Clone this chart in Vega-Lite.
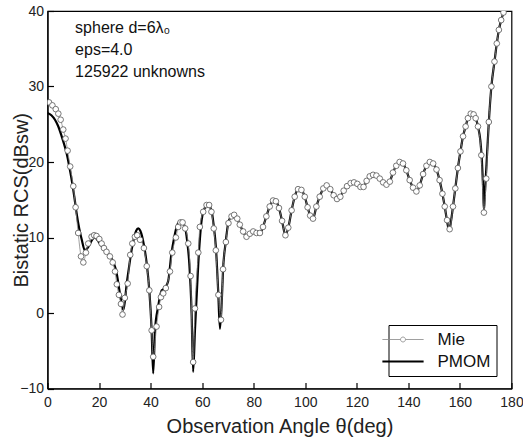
{
  "$schema": "https://vega.github.io/schema/vega-lite/v6.json",
  "width": 464,
  "height": 377.5,
  "autosize": {"type": "none"},
  "padding": {"left": 47.5, "top": 11, "right": 11.5, "bottom": 51.5},
  "background": "white",
  "config": {
    "font": "Liberation Sans",
    "view": {"stroke": "#000", "strokeWidth": 1.2},
    "axis": {"grid": false, "domainColor": "#000", "domainWidth": 1.2, "tickColor": "#000", "tickWidth": 1.2, "labelColor": "#222", "labelFontSize": 14, "titleFontSize": 20, "titleFontWeight": "normal", "titleColor": "#222", "labelFlush": false, "labelOverlap": false}
  },
  "datasets": {
    "pmom": [
      {"t": 0, "v": 26.5, "series": "PMOM"}, {"t": 1.5, "v": 26.2, "series": "PMOM"}, {"t": 2.9, "v": 25.6, "series": "PMOM"}, {"t": 4.2, "v": 24.7, "series": "PMOM"}, {"t": 5.5, "v": 23.4, "series": "PMOM"}, {"t": 6.5, "v": 22.3, "series": "PMOM"}, {"t": 7.4, "v": 21.2, "series": "PMOM"}, {"t": 8.4, "v": 19.5, "series": "PMOM"}, {"t": 9.4, "v": 17.6, "series": "PMOM"}, {"t": 10.4, "v": 15.4, "series": "PMOM"}, {"t": 11.3, "v": 13.2, "series": "PMOM"}, {"t": 12.3, "v": 11.2, "series": "PMOM"}, {"t": 13.3, "v": 9.7, "series": "PMOM"}, {"t": 14.5, "v": 8.3, "series": "PMOM"}, {"t": 15.5, "v": 8.6, "series": "PMOM"}, {"t": 16.5, "v": 9.2, "series": "PMOM"}, {"t": 17.5, "v": 9.8, "series": "PMOM"}, {"t": 18.4, "v": 10.0, "series": "PMOM"}, {"t": 19.3, "v": 9.7, "series": "PMOM"}, {"t": 20.3, "v": 9.2, "series": "PMOM"}, {"t": 21.6, "v": 8.6, "series": "PMOM"}, {"t": 22.9, "v": 8.1, "series": "PMOM"}, {"t": 24.2, "v": 7.5, "series": "PMOM"}, {"t": 25.5, "v": 6.8, "series": "PMOM"}, {"t": 26.8, "v": 5.3, "series": "PMOM"}, {"t": 28.1, "v": 2.6, "series": "PMOM"}, {"t": 29.4, "v": 0.4, "series": "PMOM"}, {"t": 30.0, "v": 1.5, "series": "PMOM"}, {"t": 30.6, "v": 3.5, "series": "PMOM"}, {"t": 31.6, "v": 6.0, "series": "PMOM"}, {"t": 32.6, "v": 8.3, "series": "PMOM"}, {"t": 33.6, "v": 10.0, "series": "PMOM"}, {"t": 34.4, "v": 10.9, "series": "PMOM"}, {"t": 35.2, "v": 11.2, "series": "PMOM"}, {"t": 36.0, "v": 10.9, "series": "PMOM"}, {"t": 37.4, "v": 9.0, "series": "PMOM"}, {"t": 38.5, "v": 6.5, "series": "PMOM"}, {"t": 39.5, "v": 3.0, "series": "PMOM"}, {"t": 40.4, "v": -2.3, "series": "PMOM"}, {"t": 41.0, "v": -8.0, "series": "PMOM"}, {"t": 41.7, "v": -2.3, "series": "PMOM"}, {"t": 42.9, "v": 0.8, "series": "PMOM"}, {"t": 44.3, "v": 3.0, "series": "PMOM"}, {"t": 45.5, "v": 3.3, "series": "PMOM"}, {"t": 46.8, "v": 4.2, "series": "PMOM"}, {"t": 48.1, "v": 7.9, "series": "PMOM"}, {"t": 49.1, "v": 9.9, "series": "PMOM"}, {"t": 50.1, "v": 11.4, "series": "PMOM"}, {"t": 51.6, "v": 12.2, "series": "PMOM"}, {"t": 53.3, "v": 11.4, "series": "PMOM"}, {"t": 54.2, "v": 9.5, "series": "PMOM"}, {"t": 55.0, "v": 6.6, "series": "PMOM"}, {"t": 55.9, "v": 0.0, "series": "PMOM"}, {"t": 56.5, "v": -7.8, "series": "PMOM"}, {"t": 57.2, "v": -2.3, "series": "PMOM"}, {"t": 58.5, "v": 6.6, "series": "PMOM"}, {"t": 59.8, "v": 12.3, "series": "PMOM"}, {"t": 61.0, "v": 13.9, "series": "PMOM"}, {"t": 62.3, "v": 14.3, "series": "PMOM"}, {"t": 63.6, "v": 13.6, "series": "PMOM"}, {"t": 64.5, "v": 11.5, "series": "PMOM"}, {"t": 65.3, "v": 8.8, "series": "PMOM"}, {"t": 66.2, "v": 3.0, "series": "PMOM"}, {"t": 66.9, "v": -2.1, "series": "PMOM"}, {"t": 67.6, "v": 1.5, "series": "PMOM"}, {"t": 68.1, "v": 5.7, "series": "PMOM"}, {"t": 69.1, "v": 9.3, "series": "PMOM"}, {"t": 70.1, "v": 11.9, "series": "PMOM"}, {"t": 71.0, "v": 12.7, "series": "PMOM"}, {"t": 72.0, "v": 13.0, "series": "PMOM"}, {"t": 73.6, "v": 12.5, "series": "PMOM"}, {"t": 74.6, "v": 11.7, "series": "PMOM"}, {"t": 75.9, "v": 10.8, "series": "PMOM"}, {"t": 77.2, "v": 10.1, "series": "PMOM"}, {"t": 78.5, "v": 10.5, "series": "PMOM"}, {"t": 79.8, "v": 10.8, "series": "PMOM"}, {"t": 81.1, "v": 10.6, "series": "PMOM"}, {"t": 82.4, "v": 10.6, "series": "PMOM"}, {"t": 83.6, "v": 11.4, "series": "PMOM"}, {"t": 84.9, "v": 12.8, "series": "PMOM"}, {"t": 86.2, "v": 14.1, "series": "PMOM"}, {"t": 87.5, "v": 14.9, "series": "PMOM"}, {"t": 88.6, "v": 14.8, "series": "PMOM"}, {"t": 89.8, "v": 13.9, "series": "PMOM"}, {"t": 91.0, "v": 12.2, "series": "PMOM"}, {"t": 92.3, "v": 10.3, "series": "PMOM"}, {"t": 93.4, "v": 11.3, "series": "PMOM"}, {"t": 94.7, "v": 13.6, "series": "PMOM"}, {"t": 95.9, "v": 15.4, "series": "PMOM"}, {"t": 97.2, "v": 16.4, "series": "PMOM"}, {"t": 98.5, "v": 16.3, "series": "PMOM"}, {"t": 99.8, "v": 15.4, "series": "PMOM"}, {"t": 100.9, "v": 14.0, "series": "PMOM"}, {"t": 101.9, "v": 12.9, "series": "PMOM"}, {"t": 103.0, "v": 12.5, "series": "PMOM"}, {"t": 104.3, "v": 14.1, "series": "PMOM"}, {"t": 105.6, "v": 15.4, "series": "PMOM"}, {"t": 107.0, "v": 16.5, "series": "PMOM"}, {"t": 108.3, "v": 16.9, "series": "PMOM"}, {"t": 109.7, "v": 16.4, "series": "PMOM"}, {"t": 111.0, "v": 15.6, "series": "PMOM"}, {"t": 112.3, "v": 15.1, "series": "PMOM"}, {"t": 113.6, "v": 15.4, "series": "PMOM"}, {"t": 114.9, "v": 16.2, "series": "PMOM"}, {"t": 116.2, "v": 16.8, "series": "PMOM"}, {"t": 117.6, "v": 17.2, "series": "PMOM"}, {"t": 118.9, "v": 17.3, "series": "PMOM"}, {"t": 120.2, "v": 17.1, "series": "PMOM"}, {"t": 121.4, "v": 16.7, "series": "PMOM"}, {"t": 122.6, "v": 16.7, "series": "PMOM"}, {"t": 123.8, "v": 17.5, "series": "PMOM"}, {"t": 125.0, "v": 18.1, "series": "PMOM"}, {"t": 126.3, "v": 18.3, "series": "PMOM"}, {"t": 127.6, "v": 18.2, "series": "PMOM"}, {"t": 128.9, "v": 17.8, "series": "PMOM"}, {"t": 130.2, "v": 17.3, "series": "PMOM"}, {"t": 131.5, "v": 17.0, "series": "PMOM"}, {"t": 132.8, "v": 17.4, "series": "PMOM"}, {"t": 134.0, "v": 18.6, "series": "PMOM"}, {"t": 135.3, "v": 19.5, "series": "PMOM"}, {"t": 136.6, "v": 20.0, "series": "PMOM"}, {"t": 137.9, "v": 19.8, "series": "PMOM"}, {"t": 139.2, "v": 18.9, "series": "PMOM"}, {"t": 140.5, "v": 17.6, "series": "PMOM"}, {"t": 141.8, "v": 16.6, "series": "PMOM"}, {"t": 143.1, "v": 16.1, "series": "PMOM"}, {"t": 144.4, "v": 16.9, "series": "PMOM"}, {"t": 145.7, "v": 18.4, "series": "PMOM"}, {"t": 147.0, "v": 19.5, "series": "PMOM"}, {"t": 148.3, "v": 20.0, "series": "PMOM"}, {"t": 149.6, "v": 19.8, "series": "PMOM"}, {"t": 150.9, "v": 19.0, "series": "PMOM"}, {"t": 152.1, "v": 17.6, "series": "PMOM"}, {"t": 153.2, "v": 15.8, "series": "PMOM"}, {"t": 154.1, "v": 14.1, "series": "PMOM"}, {"t": 155.0, "v": 12.2, "series": "PMOM"}, {"t": 155.8, "v": 10.9, "series": "PMOM"}, {"t": 156.6, "v": 12.3, "series": "PMOM"}, {"t": 157.3, "v": 14.1, "series": "PMOM"}, {"t": 158.2, "v": 16.5, "series": "PMOM"}, {"t": 159.2, "v": 19.2, "series": "PMOM"}, {"t": 160.2, "v": 21.4, "series": "PMOM"}, {"t": 161.2, "v": 23.4, "series": "PMOM"}, {"t": 162.2, "v": 24.7, "series": "PMOM"}, {"t": 163.1, "v": 25.8, "series": "PMOM"}, {"t": 164.2, "v": 26.4, "series": "PMOM"}, {"t": 165.3, "v": 26.3, "series": "PMOM"}, {"t": 166.1, "v": 25.8, "series": "PMOM"}, {"t": 167.0, "v": 24.7, "series": "PMOM"}, {"t": 167.9, "v": 22.9, "series": "PMOM"}, {"t": 168.5, "v": 20.3, "series": "PMOM"}, {"t": 168.9, "v": 17.4, "series": "PMOM"}, {"t": 169.3, "v": 13.6, "series": "PMOM"}, {"t": 169.7, "v": 16.0, "series": "PMOM"}, {"t": 170.2, "v": 19.0, "series": "PMOM"}, {"t": 171.2, "v": 25.3, "series": "PMOM"}, {"t": 172.2, "v": 30.0, "series": "PMOM"}, {"t": 173.4, "v": 33.3, "series": "PMOM"}, {"t": 174.3, "v": 35.7, "series": "PMOM"}, {"t": 175.1, "v": 37.5, "series": "PMOM"}, {"t": 176.0, "v": 38.8, "series": "PMOM"}, {"t": 176.9, "v": 39.8, "series": "PMOM"}, {"t": 178.0, "v": 41.3, "series": "PMOM"}
    ],
    "mie": [
      {"t": 0.6, "v": 27.9, "series": "Mie"}, {"t": 1.9, "v": 27.5, "series": "Mie"}, {"t": 3.2, "v": 27.0, "series": "Mie"}, {"t": 4.2, "v": 26.4, "series": "Mie"}, {"t": 5.1, "v": 25.6, "series": "Mie"}, {"t": 6.1, "v": 24.3, "series": "Mie"}, {"t": 7.0, "v": 23.1, "series": "Mie"}, {"t": 7.8, "v": 21.5, "series": "Mie"}, {"t": 8.8, "v": 19.4, "series": "Mie"}, {"t": 10.0, "v": 16.8, "series": "Mie"}, {"t": 10.9, "v": 14.0, "series": "Mie"}, {"t": 11.9, "v": 10.6, "series": "Mie"}, {"t": 13.0, "v": 7.5, "series": "Mie"}, {"t": 13.9, "v": 6.7, "series": "Mie"}, {"t": 14.9, "v": 8.0, "series": "Mie"}, {"t": 15.8, "v": 9.2, "series": "Mie"}, {"t": 17.1, "v": 10.1, "series": "Mie"}, {"t": 18.1, "v": 10.3, "series": "Mie"}, {"t": 19.0, "v": 10.2, "series": "Mie"}, {"t": 20.1, "v": 9.8, "series": "Mie"}, {"t": 21.0, "v": 9.2, "series": "Mie"}, {"t": 21.9, "v": 8.6, "series": "Mie"}, {"t": 22.9, "v": 8.1, "series": "Mie"}, {"t": 24.2, "v": 7.5, "series": "Mie"}, {"t": 25.3, "v": 6.7, "series": "Mie"}, {"t": 26.2, "v": 5.5, "series": "Mie"}, {"t": 26.9, "v": 3.8, "series": "Mie"}, {"t": 27.7, "v": 2.4, "series": "Mie"}, {"t": 28.5, "v": 1.2, "series": "Mie"}, {"t": 29.1, "v": -0.2, "series": "Mie"}, {"t": 30.0, "v": 2.0, "series": "Mie"}, {"t": 31.1, "v": 3.9, "series": "Mie"}, {"t": 32.1, "v": 7.7, "series": "Mie"}, {"t": 32.9, "v": 9.2, "series": "Mie"}, {"t": 33.9, "v": 10.1, "series": "Mie"}, {"t": 34.8, "v": 10.3, "series": "Mie"}, {"t": 35.9, "v": 9.7, "series": "Mie"}, {"t": 37.4, "v": 8.6, "series": "Mie"}, {"t": 38.5, "v": 6.2, "series": "Mie"}, {"t": 39.5, "v": 3.0, "series": "Mie"}, {"t": 40.4, "v": -2.3, "series": "Mie"}, {"t": 41.0, "v": -5.8, "series": "Mie"}, {"t": 42.3, "v": -1.8, "series": "Mie"}, {"t": 43.3, "v": 0.8, "series": "Mie"}, {"t": 44.0, "v": 2.1, "series": "Mie"}, {"t": 44.9, "v": 2.6, "series": "Mie"}, {"t": 45.9, "v": 3.3, "series": "Mie"}, {"t": 47.5, "v": 5.5, "series": "Mie"}, {"t": 48.4, "v": 8.0, "series": "Mie"}, {"t": 49.8, "v": 10.0, "series": "Mie"}, {"t": 50.7, "v": 11.4, "series": "Mie"}, {"t": 51.6, "v": 12.0, "series": "Mie"}, {"t": 52.4, "v": 12.0, "series": "Mie"}, {"t": 53.4, "v": 11.2, "series": "Mie"}, {"t": 54.6, "v": 9.2, "series": "Mie"}, {"t": 55.5, "v": 4.9, "series": "Mie"}, {"t": 56.5, "v": -6.5, "series": "Mie"}, {"t": 57.2, "v": 0.6, "series": "Mie"}, {"t": 58.5, "v": 8.0, "series": "Mie"}, {"t": 59.1, "v": 11.4, "series": "Mie"}, {"t": 60.4, "v": 13.4, "series": "Mie"}, {"t": 61.7, "v": 14.3, "series": "Mie"}, {"t": 62.7, "v": 14.3, "series": "Mie"}, {"t": 63.6, "v": 13.4, "series": "Mie"}, {"t": 64.5, "v": 11.2, "series": "Mie"}, {"t": 65.3, "v": 8.3, "series": "Mie"}, {"t": 66.3, "v": 2.4, "series": "Mie"}, {"t": 67.3, "v": -0.9, "series": "Mie"}, {"t": 68.1, "v": 5.8, "series": "Mie"}, {"t": 69.2, "v": 9.4, "series": "Mie"}, {"t": 70.2, "v": 11.9, "series": "Mie"}, {"t": 71.4, "v": 12.8, "series": "Mie"}, {"t": 72.4, "v": 13.0, "series": "Mie"}, {"t": 73.6, "v": 12.5, "series": "Mie"}, {"t": 74.6, "v": 11.7, "series": "Mie"}, {"t": 75.9, "v": 10.8, "series": "Mie"}, {"t": 77.2, "v": 10.1, "series": "Mie"}, {"t": 78.5, "v": 10.5, "series": "Mie"}, {"t": 79.8, "v": 10.8, "series": "Mie"}, {"t": 81.1, "v": 10.6, "series": "Mie"}, {"t": 82.4, "v": 10.6, "series": "Mie"}, {"t": 83.6, "v": 11.4, "series": "Mie"}, {"t": 84.9, "v": 12.8, "series": "Mie"}, {"t": 86.2, "v": 14.1, "series": "Mie"}, {"t": 87.5, "v": 14.9, "series": "Mie"}, {"t": 88.6, "v": 14.8, "series": "Mie"}, {"t": 89.8, "v": 13.9, "series": "Mie"}, {"t": 91.0, "v": 12.2, "series": "Mie"}, {"t": 92.3, "v": 10.3, "series": "Mie"}, {"t": 93.4, "v": 11.3, "series": "Mie"}, {"t": 94.7, "v": 13.6, "series": "Mie"}, {"t": 95.9, "v": 15.4, "series": "Mie"}, {"t": 97.2, "v": 16.4, "series": "Mie"}, {"t": 98.5, "v": 16.3, "series": "Mie"}, {"t": 99.8, "v": 15.4, "series": "Mie"}, {"t": 100.9, "v": 14.0, "series": "Mie"}, {"t": 101.9, "v": 12.9, "series": "Mie"}, {"t": 103.0, "v": 12.5, "series": "Mie"}, {"t": 104.3, "v": 14.1, "series": "Mie"}, {"t": 105.6, "v": 15.4, "series": "Mie"}, {"t": 107.0, "v": 16.5, "series": "Mie"}, {"t": 108.3, "v": 16.9, "series": "Mie"}, {"t": 109.7, "v": 16.4, "series": "Mie"}, {"t": 111.0, "v": 15.6, "series": "Mie"}, {"t": 112.3, "v": 15.1, "series": "Mie"}, {"t": 113.6, "v": 15.4, "series": "Mie"}, {"t": 114.9, "v": 16.2, "series": "Mie"}, {"t": 116.2, "v": 16.8, "series": "Mie"}, {"t": 117.6, "v": 17.2, "series": "Mie"}, {"t": 118.9, "v": 17.3, "series": "Mie"}, {"t": 120.2, "v": 17.1, "series": "Mie"}, {"t": 121.4, "v": 16.7, "series": "Mie"}, {"t": 122.6, "v": 16.7, "series": "Mie"}, {"t": 123.8, "v": 17.5, "series": "Mie"}, {"t": 125.0, "v": 18.1, "series": "Mie"}, {"t": 126.3, "v": 18.3, "series": "Mie"}, {"t": 127.6, "v": 18.2, "series": "Mie"}, {"t": 128.9, "v": 17.8, "series": "Mie"}, {"t": 130.2, "v": 17.3, "series": "Mie"}, {"t": 131.5, "v": 17.0, "series": "Mie"}, {"t": 132.8, "v": 17.4, "series": "Mie"}, {"t": 134.0, "v": 18.6, "series": "Mie"}, {"t": 135.3, "v": 19.5, "series": "Mie"}, {"t": 136.6, "v": 20.0, "series": "Mie"}, {"t": 137.9, "v": 19.8, "series": "Mie"}, {"t": 139.2, "v": 18.9, "series": "Mie"}, {"t": 140.5, "v": 17.6, "series": "Mie"}, {"t": 141.8, "v": 16.6, "series": "Mie"}, {"t": 143.1, "v": 16.1, "series": "Mie"}, {"t": 144.4, "v": 16.9, "series": "Mie"}, {"t": 145.7, "v": 18.4, "series": "Mie"}, {"t": 147.0, "v": 19.5, "series": "Mie"}, {"t": 148.3, "v": 20.0, "series": "Mie"}, {"t": 149.6, "v": 19.8, "series": "Mie"}, {"t": 150.9, "v": 19.0, "series": "Mie"}, {"t": 152.1, "v": 17.6, "series": "Mie"}, {"t": 153.2, "v": 15.8, "series": "Mie"}, {"t": 154.1, "v": 14.1, "series": "Mie"}, {"t": 155.0, "v": 12.3, "series": "Mie"}, {"t": 156.0, "v": 11.1, "series": "Mie"}, {"t": 157.3, "v": 14.1, "series": "Mie"}, {"t": 158.2, "v": 16.5, "series": "Mie"}, {"t": 159.2, "v": 19.2, "series": "Mie"}, {"t": 160.2, "v": 21.4, "series": "Mie"}, {"t": 161.2, "v": 23.4, "series": "Mie"}, {"t": 162.2, "v": 24.7, "series": "Mie"}, {"t": 163.1, "v": 25.8, "series": "Mie"}, {"t": 164.2, "v": 26.4, "series": "Mie"}, {"t": 165.3, "v": 26.3, "series": "Mie"}, {"t": 166.1, "v": 25.8, "series": "Mie"}, {"t": 167.0, "v": 24.7, "series": "Mie"}, {"t": 168.3, "v": 20.9, "series": "Mie"}, {"t": 169.3, "v": 13.3, "series": "Mie"}, {"t": 170.2, "v": 17.8, "series": "Mie"}, {"t": 171.2, "v": 25.3, "series": "Mie"}, {"t": 172.2, "v": 30.0, "series": "Mie"}, {"t": 173.4, "v": 33.3, "series": "Mie"}, {"t": 174.3, "v": 35.7, "series": "Mie"}, {"t": 175.1, "v": 37.5, "series": "Mie"}, {"t": 176.0, "v": 38.8, "series": "Mie"}, {"t": 176.9, "v": 39.8, "series": "Mie"}
    ],
    "note": [{"label": ["sphere d=6λ₀", "eps=4.0", "125922 unknowns"]}]
  },
  "layer": [
    {"data": {"name": "pmom"},
     "mark": {"type": "line", "interpolate": "monotone", "strokeWidth": 2.2, "clip": true},
     "encoding": {
       "x": {"field": "t", "type": "quantitative", "scale": {"domain": [0, 180], "nice": false, "zero": false},
         "title": "Observation Angle θ(deg)",
         "axis": {"values": [0, 10, 20, 30, 40, 50, 60, 70, 80, 90, 100, 110, 120, 130, 140, 150, 160, 170, 180],
           "labelExpr": "datum.value % 20 === 0 ? datum.label : ''",
           "tickSize": {"condition": {"test": "datum.value % 20 === 0", "value": -6}, "value": -3},
           "labelPadding": 13, "titlePadding": 7}},
       "y": {"field": "v", "type": "quantitative", "scale": {"domain": [-10, 40], "nice": false, "zero": false},
         "title": "Bistatic RCS(dBsw)",
         "axis": {"values": [-10, -5, 0, 5, 10, 15, 20, 25, 30, 35, 40],
           "labelExpr": "datum.value % 10 === 0 ? datum.label : ''",
           "tickSize": {"condition": {"test": "datum.value % 10 === 0", "value": -6}, "value": -3},
           "labelPadding": 10, "titlePadding": -12}},
       "color": {"field": "series", "type": "nominal",
        "scale": {"domain": ["Mie", "PMOM"], "range": ["#888888", "#000000"]},
        "legend": {"title": null, "orient": "none", "legendX": 341, "legendY": 314,
          "strokeColor": "#000", "fillColor": "#fff", "padding": 6,
          "labelFontSize": 17, "labelColor": "#111", "labelOffset": 26,
          "symbolType": "stroke", "symbolSize": 1700, "symbolStrokeWidth": 2, "rowPadding": 4,
          "encode": {"symbols": {"update": {
            "shape": {"signal": "datum.value === 'Mie' ? 'M-1,0H-0.12M0.12,0H1M-0.12,0A0.12,0.12 0 1,0 0.12,0A0.12,0.12 0 1,0 -0.12,0' : 'M-1,0H1'"},
            "strokeWidth": {"signal": "datum.value === 'Mie' ? 0.8 : 2.2"},
            "fill": {"value": "#ffffff"}}}}}}}},
    {"data": {"name": "mie"},
     "mark": {"type": "line", "interpolate": "monotone", "strokeWidth": 0.8, "clip": true},
     "encoding": {
       "x": {"field": "t", "type": "quantitative"},
       "y": {"field": "v", "type": "quantitative"},
       "color": {"field": "series", "type": "nominal"}}},
    {"data": {"name": "mie"},
     "mark": {"type": "point", "shape": "circle", "filled": true, "fill": "#ffffff", "stroke": "#555555", "strokeWidth": 0.8, "size": 32, "opacity": 1, "clip": true},
     "encoding": {
       "x": {"field": "t", "type": "quantitative"},
       "y": {"field": "v", "type": "quantitative"}}},
    {"data": {"name": "note"},
     "mark": {"type": "text", "align": "left", "baseline": "top", "fontSize": 16, "lineHeight": 22, "color": "#111"},
     "encoding": {
       "x": {"datum": 10.7, "type": "quantitative"},
       "y": {"datum": 38.8, "type": "quantitative"},
       "text": {"field": "label"}}}
  ]
}
